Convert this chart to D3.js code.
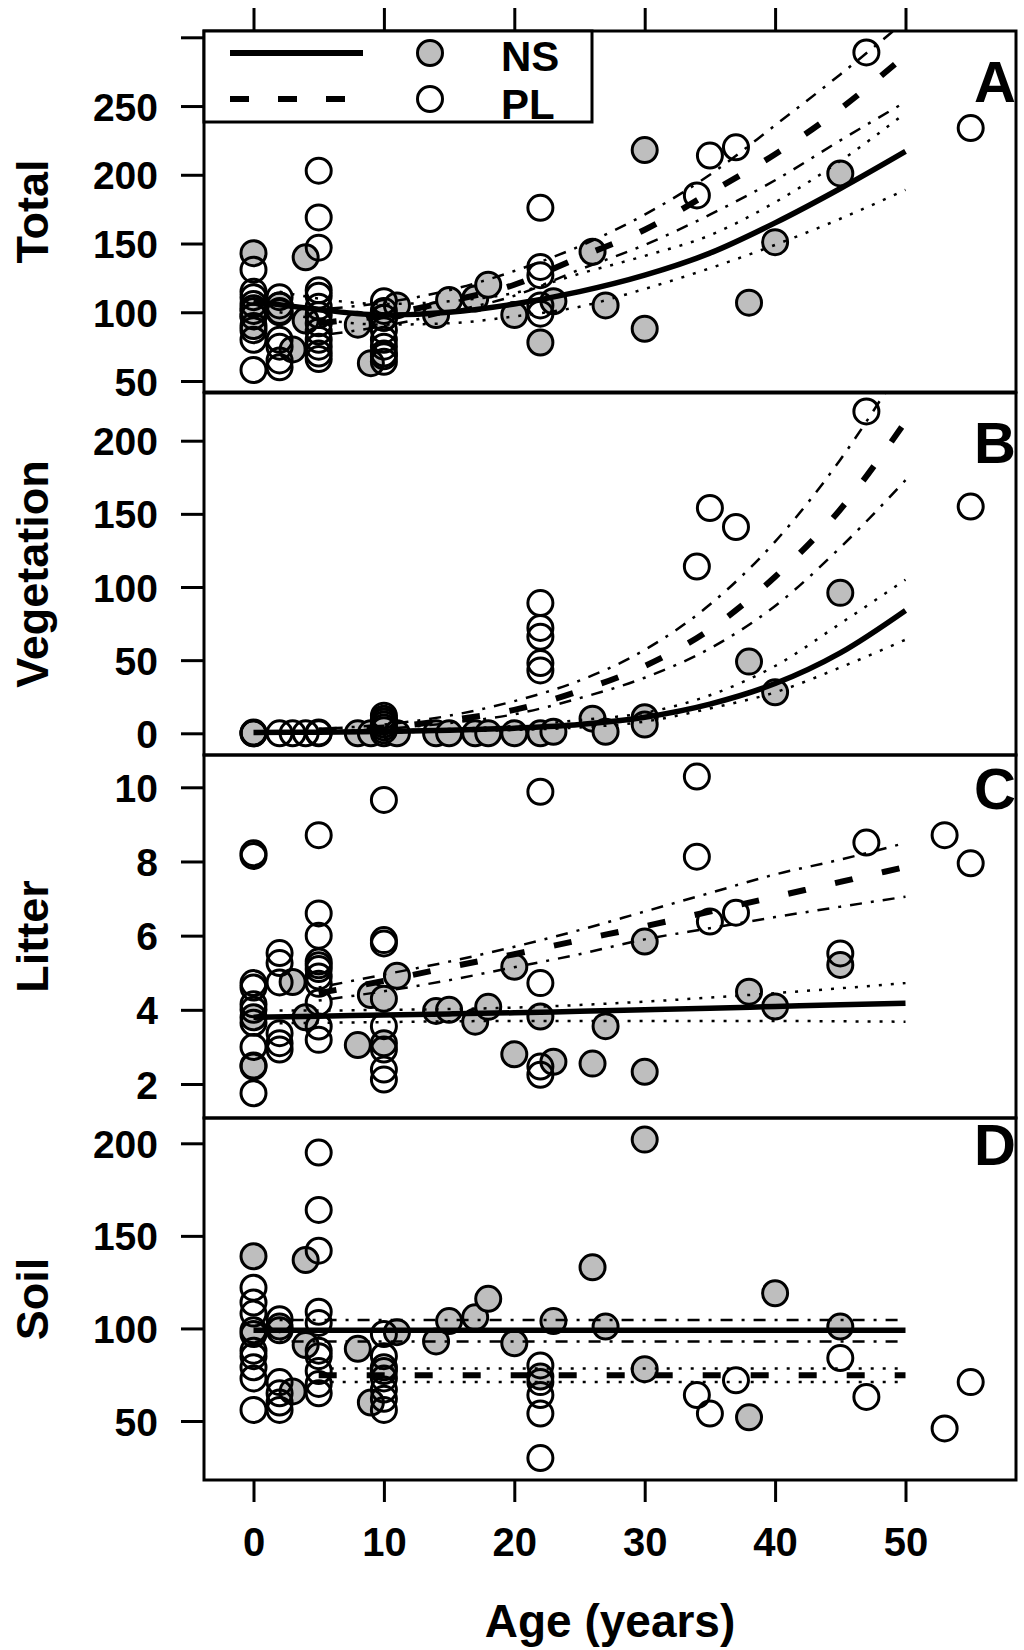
<!DOCTYPE html>
<html>
<head>
<meta charset="utf-8">
<script src="https://cdn.jsdelivr.net/npm/d3@7"></script>
<style>
  body { margin: 0; background: #fff; }
  svg { display: block; }
  text { font-family: "Liberation Sans", Arial, sans-serif; font-weight: bold; fill: #000; }
</style>
</head>
<body>
<svg id="chart" width="1024" height="1650"></svg>
<script>
// ---------------- DATA ----------------
const ageTicks = [0, 10, 20, 30, 40, 50];
const seriesNames = ["NS", "PL"];
const panelLetters = ["A", "B", "C", "D"];
const panelTitles = ["Total", "Vegetation", "Litter", "Soil"];
const xTitle = "Age (years)";

const totalTicks = [50, 100, 150, 200, 250, 300];
const totalTickLabels = ["50", "100", "150", "200", "250", ""];
const vegTicks = [0, 50, 100, 150, 200];
const vegTickLabels = ["0", "50", "100", "150", "200"];
const litterTicks = [2, 4, 6, 8, 10];
const litterTickLabels = ["2", "4", "6", "8", "10"];
const soilTicks = [50, 100, 150, 200];
const soilTickLabels = ["50", "100", "150", "200"];

// points: [age, value]
const totalNS = [[0,143],[0,103],[0,97],[0,90],[2,105],[2,100],[3,73],[4,140],[4,94],[8,91],[9,63],[10,100],[10,96],
  [11,105],[14,98],[15,109],[17,110],[18,120],[20,98],[22,78],[23,108],[26,144],[27,105],[30,218],[30,88],
  [38,107],[40,151],[45,201]];
const totalPL = [[0,131],[0,115],[0,111],[0,106],[0,101],[0,97],[0,87],[0,80],[0,58],
  [2,111],[2,105],[2,101],[2,80],[2,75],[2,65],[2,60],
  [5,203],[5,169],[5,147],[5,116],[5,112],[5,104],[5,98],[5,92],[5,86],[5,80],[5,75],[5,70],[5,66],
  [10,108],[10,101],[10,96],[10,87],[10,80],[10,75],[10,70],[10,64],[10,68],
  [22,176],[22,133],[22,127],[22,105],[22,99],
  [34,185],[35,214],[37,220],[47,289],[55,234]];

const vegNS = [[0,0],[8,0],[9,0],[10,0],[10,8],[11,0],[14,0],[15,0],[17,0],[18,0],[20,0],[22,0],[23,1],
  [26,10],[27,1],[30,11],[30,6],[38,49],[40,28],[45,96]];
const vegPL = [[0,0],[0,0.5],[2,0],[3,0],[4,0],[5,0],[5,0.5],
  [10,2],[10,4],[10,6],[10,8],[10,10],[10,12],
  [22,89],[22,72],[22,66],[22,48],[22,43],
  [34,114],[35,154],[37,141],[47,220],[55,155]];

const litterNS = [[0,3.8],[0,2.47],[3,4.75],[4,3.8],[8,3.05],[9,4.4],[10,4.3],[10,3.1],[11,4.92],[14,3.97],
  [15,4.0],[17,3.68],[18,4.08],[20,5.16],[20,2.8],[22,3.82],[23,2.6],[26,2.55],[27,3.56],[30,5.84],[30,2.33],
  [38,4.49],[40,4.09],[45,5.21]];
const litterPL = [[0,8.22],[0,8.15],[0,4.72],[0,4.6],[0,4.15],[0,4.0],[0,3.65],[0,3.0],[0,2.5],[0,1.75],
  [2,5.53],[2,5.26],[2,4.74],[2,3.37],[2,3.1],[2,2.93],
  [5,8.71],[5,6.6],[5,6.0],[5,5.3],[5,5.2],[5,5.1],[5,4.9],[5,4.7],[5,4.2],[5,3.55],[5,3.19],
  [10,9.66],[10,5.88],[10,5.79],[10,3.56],[10,2.93],[10,2.39],[10,2.12],
  [22,9.88],[22,4.72],[22,2.47],[22,2.25],
  [34,10.29],[34,8.13],[35,6.38],[37,6.62],[45,5.52],[47,8.51],[53,8.71],[55,7.95]];

const soilNS = [[0,139],[0,97],[2,101],[3,66],[4,137],[4,91],[8,89],[9,60],[10,77],[11,98],[14,93],[15,104],
  [17,106],[18,116],[20,92],[22,74],[23,104],[26,133],[27,101],[30,202],[30,78],[38,52],[40,119],[45,101]];
const soilPL = [[0,122],[0,114],[0,108],[0,99],[0,88],[0,85],[0,79],[0,73],[0,56],
  [2,105],[2,99],[2,71],[2,65],[2,60],[2,56],
  [5,195],[5,164],[5,142],[5,109],[5,103],[5,88],[5,85],[5,77],[5,70],[5,65],
  [10,97],[10,85],[10,79],[10,73],[10,67],[10,62],[10,56],
  [22,80],[22,71],[22,64],[22,54],[22,30],
  [34,64],[35,54],[37,72],[45,84],[47,63],[53,46],[55,71]];

// fitted curves (values read at these ages)
const nsFitAges = [0, 5, 10, 15, 20, 25, 30, 35, 40, 45, 50];
const nsCiAges  = [2, 5, 10, 15, 20, 25, 30, 35, 40, 45, 50];
const plFitAges = [5, 10, 15, 20, 25, 30, 35, 40, 45, 50];

const totalNSFit = [108, 102, 98, 100, 106, 115, 127, 143, 165, 190, 217];
const totalNSUp  = [115, 110, 106, 108, 114, 128, 141, 156, 180, 210, 245];
const totalNSLo  = [100, 95, 91, 92, 97, 104, 117, 132, 149, 168, 189];
const totalPLFit = [92, 98, 108, 120, 140, 160, 187, 215, 248, 287];
const totalPLUp  = [102, 107, 116, 130, 148, 171, 200, 236, 273, 312];
const totalPLLo  = [83, 90, 100, 112, 131, 149, 171, 196, 225, 253];

const vegNSFit = [0.5, 0.8, 1.2, 2, 3.5, 6, 11, 20, 34, 55, 84];
const vegNSUp  = [1.2, 1.5, 2, 3, 5, 9, 14, 26, 46, 75, 105];
const vegNSLo  = [0.1, 0.3, 0.6, 1.2, 2.3, 4, 8, 17, 28, 45, 64];
const vegPLFit = [2, 4, 9, 16, 29, 46, 71, 107, 153, 213];
const vegPLUp  = [3, 6, 12, 22, 36, 57, 88, 131, 187, 255];
const vegPLLo  = [1, 3, 7, 13, 24, 38, 58, 87, 127, 173];

const litterNSFit = [3.8, 3.83, 3.86, 3.89, 3.92, 3.96, 4.0, 4.04, 4.09, 4.14, 4.18];
const litterNSUp  = [3.98, 3.98, 4.0, 4.02, 4.06, 4.13, 4.22, 4.33, 4.45, 4.58, 4.72];
const litterNSLo  = [3.64, 3.65, 3.67, 3.69, 3.7, 3.7, 3.7, 3.7, 3.7, 3.69, 3.68];
const litterPLFit = [4.45, 4.78, 5.15, 5.5, 5.88, 6.25, 6.65, 7.05, 7.45, 7.85];
const litterPLUp  = [4.6, 4.95, 5.3, 5.7, 6.15, 6.65, 7.15, 7.65, 8.05, 8.5];
const litterPLLo  = [4.25, 4.5, 4.8, 5.15, 5.5, 5.9, 6.2, 6.5, 6.78, 7.05];

const soilNSFit = [99, 99, 99, 99, 99, 99, 99, 99, 99, 99, 99];
const soilNSUp  = [104.5, 104.5, 104.5, 104.5, 104.5, 104.5, 104.5, 104.5, 104.5, 104.5, 104.5];
const soilNSLo  = [93, 93, 93, 93, 93, 93, 93, 93, 93, 93, 93];
const soilPLFit = [74.7, 74.7, 74.7, 74.7, 74.7, 74.7, 74.7, 74.7, 74.7, 74.7];
const soilPLUp  = [78.4, 78.4, 78.4, 78.4, 78.4, 78.4, 78.4, 78.4, 78.4, 78.4];
const soilPLLo  = [71, 71, 71, 71, 71, 71, 71, 71, 71, 71];

// ---------------- LAYOUT ----------------
const svg = d3.select("#chart");
svg.append("rect").attr("width", 1024).attr("height", 1650).attr("fill", "#fff");
const L = 204, R = 1016;
const x = d3.scaleLinear().domain([0, 50]).range([253.5, 905.5]);
const grey = "#bebebe";
const FONT = "'Liberation Sans', Arial, sans-serif";

const styles = {
  solid:   { w: 5.5, dash: null },
  dashed:  { w: 6, dash: "18,30" },
  dotted:  { w: 2.5, dash: "3,9" },
  dashdot: { w: 2.5, dash: "3,9,12,9" }
};

const panels = [
  { top: 31, bottom: 392, dom: [50, 300], rng: [381, 37.3], ticks: totalTicks, labels: totalTickLabels,
    ns: totalNS, pl: totalPL, letterY: 102,
    nsFit: totalNSFit, nsUp: totalNSUp, nsLo: totalNSLo, plFit: totalPLFit, plUp: totalPLUp, plLo: totalPLLo,
    nsCi: "dotted", plCi: "dashdot" },
  { top: 393, bottom: 755, dom: [0, 200], rng: [733.3, 440.7], ticks: vegTicks, labels: vegTickLabels,
    ns: vegNS, pl: vegPL, letterY: 463,
    nsFit: vegNSFit, nsUp: vegNSUp, nsLo: vegNSLo, plFit: vegPLFit, plUp: vegPLUp, plLo: vegPLLo,
    nsCi: "dotted", plCi: "dashdot" },
  { top: 755, bottom: 1118, dom: [2, 10], rng: [1084, 787.3], ticks: litterTicks, labels: litterTickLabels,
    ns: litterNS, pl: litterPL, letterY: 809,
    nsFit: litterNSFit, nsUp: litterNSUp, nsLo: litterNSLo, plFit: litterPLFit, plUp: litterPLUp, plLo: litterPLLo,
    nsCi: "dotted", plCi: "dashdot" },
  { top: 1118, bottom: 1480, dom: [50, 200], rng: [1421, 1143.3], ticks: soilTicks, labels: soilTickLabels,
    ns: soilNS, pl: soilPL, letterY: 1165,
    nsFit: soilNSFit, nsUp: soilNSUp, nsLo: soilNSLo, plFit: soilPLFit, plUp: soilPLUp, plLo: soilPLLo,
    nsCi: "dashdot", plCi: "dotted" }
];

const defs = svg.append("defs");

panels.forEach((p, i) => {
  const y = d3.scaleLinear().domain(p.dom).range(p.rng);
  const clipId = "clip" + i;
  defs.append("clipPath").attr("id", clipId)
    .append("rect").attr("x", L).attr("y", p.top).attr("width", R - L).attr("height", p.bottom - p.top);

  const g = svg.append("g");
  const plot = g.append("g").attr("clip-path", `url(#${clipId})`);

  // points: NS (filled grey) first, then PL (open)
  plot.selectAll("circle.ns").data(p.ns).join("circle")
    .attr("class", "ns")
    .attr("cx", d => x(d[0])).attr("cy", d => y(d[1])).attr("r", 12.5)
    .attr("fill", grey).attr("stroke", "#000").attr("stroke-width", 3);
  plot.selectAll("circle.pl").data(p.pl).join("circle")
    .attr("class", "pl")
    .attr("cx", d => x(d[0])).attr("cy", d => y(d[1])).attr("r", 12.5)
    .attr("fill", "none").attr("stroke", "#000").attr("stroke-width", 3);

  // fitted lines
  const line = d3.line().x(d => x(d[0])).y(d => y(d[1])).curve(d3.curveMonotoneX);
  const draw = (ages, vals, st) => {
    const s = styles[st];
    plot.append("path").datum(ages.map((a, k) => [a, vals[k]]))
      .attr("d", line).attr("fill", "none").attr("stroke", "#000")
      .attr("stroke-width", s.w).attr("stroke-dasharray", s.dash);
  };
  draw(nsCiAges, p.nsUp, p.nsCi);
  draw(nsCiAges, p.nsLo, p.nsCi);
  draw(plFitAges, p.plUp, p.plCi);
  draw(plFitAges, p.plLo, p.plCi);
  draw(plFitAges, p.plFit, "dashed");
  draw(nsFitAges, p.nsFit, "solid");

  // box
  g.append("rect").attr("x", L).attr("y", p.top).attr("width", R - L).attr("height", p.bottom - p.top)
    .attr("fill", "none").attr("stroke", "#000").attr("stroke-width", 3);

  // y axis
  const ax = g.append("g").attr("transform", `translate(${L},0)`)
    .call(d3.axisLeft(y).tickValues(p.ticks).tickSize(23).tickSizeOuter(0)
      .tickFormat((d, k) => p.labels[k]));
  ax.select(".domain").remove();
  ax.selectAll(".tick line").attr("stroke", "#000").attr("stroke-width", 3);
  ax.selectAll(".tick text").attr("x", -46).attr("dy", "0.36em")
    .style("font-size", "39px").style("font-family", FONT)
    .style("font-weight", "bold").attr("fill", "#000");

  // y title
  g.append("text")
    .attr("transform", `translate(48,${(p.top + p.bottom) / 2}) rotate(-90)`)
    .attr("text-anchor", "middle").style("font-size", "45px").text(panelTitles[i]);

  // panel letter
  g.append("text").attr("x", R).attr("y", p.letterY).attr("text-anchor", "end")
    .style("font-size", "58px").text(panelLetters[i]);
});

// top axis ticks (no labels)
const topAx = svg.append("g").attr("transform", "translate(0,31)")
  .call(d3.axisTop(x).tickValues(ageTicks).tickSize(23).tickSizeOuter(0).tickFormat(""));
topAx.select(".domain").remove();
topAx.selectAll(".tick line").attr("stroke", "#000").attr("stroke-width", 3);

// bottom axis
const botAx = svg.append("g").attr("transform", "translate(0,1480)")
  .call(d3.axisBottom(x).tickValues(ageTicks).tickSize(22).tickSizeOuter(0).tickFormat(d3.format("d")));
botAx.select(".domain").remove();
botAx.selectAll(".tick line").attr("stroke", "#000").attr("stroke-width", 3);
botAx.selectAll(".tick text").attr("y", 76).attr("dy", "0")
  .style("font-size", "40px").style("font-family", FONT)
  .style("font-weight", "bold").attr("fill", "#000");

svg.append("text").attr("x", (L + R) / 2).attr("y", 1637).attr("text-anchor", "middle")
  .style("font-size", "46px").text(xTitle);

// legend
const lg = svg.append("g");
lg.append("rect").attr("x", L).attr("y", 31).attr("width", 388).attr("height", 91)
  .attr("fill", "#fff").attr("stroke", "#000").attr("stroke-width", 3);
lg.append("line").attr("x1", 230).attr("x2", 363).attr("y1", 53).attr("y2", 53)
  .attr("stroke", "#000").attr("stroke-width", styles.solid.w + 0.5);
lg.append("line").attr("x1", 230).attr("x2", 345).attr("y1", 99).attr("y2", 99)
  .attr("stroke", "#000").attr("stroke-width", styles.dashed.w).attr("stroke-dasharray", "19,29");
lg.append("circle").attr("cx", 430).attr("cy", 53).attr("r", 12.5)
  .attr("fill", grey).attr("stroke", "#000").attr("stroke-width", 3);
lg.append("circle").attr("cx", 430).attr("cy", 99).attr("r", 12.5)
  .attr("fill", "none").attr("stroke", "#000").attr("stroke-width", 3);
lg.append("text").attr("x", 501).attr("y", 71).style("font-size", "42px").text(seriesNames[0]);
lg.append("text").attr("x", 501).attr("y", 119).style("font-size", "42px").text(seriesNames[1]);
</script>
</body>
</html>
